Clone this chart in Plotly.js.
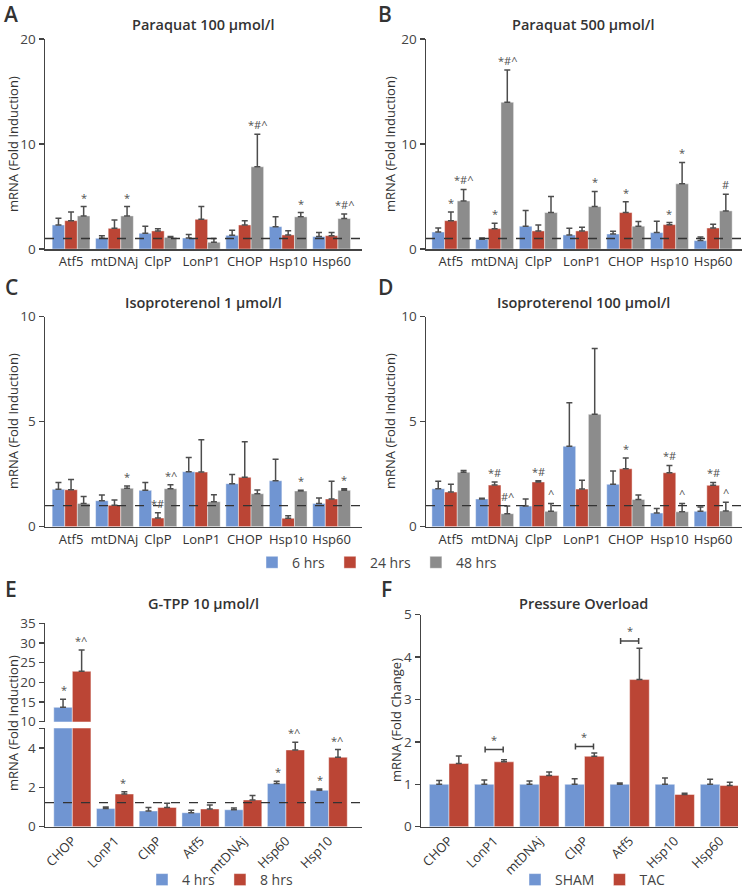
<!DOCTYPE html>
<html>
<head>
<meta charset="utf-8">
<script src="https://cdn.plot.ly/plotly-3.0.1.min.js"></script>
<style>html,body{margin:0;padding:0;background:#fff;}#chart{width:746px;height:896px;}</style>
</head>
<body>
<div id="chart"></div>
<script>
// ---------- DATA ----------
const genesAD = ['Atf5','mtDNAj','ClpP','LonP1','CHOP','Hsp10','Hsp60'];
const seriesAD = ['6 hrs','24 hrs','48 hrs'];

// Panel A: Paraquat 100 umol/l
const a6 = [2.29,1.02,1.50,1.05,1.30,2.13,1.18];
const a6err = [0.64,0.25,0.67,0.32,0.48,0.93,0.38];
const a24 = [2.70,1.97,1.72,2.83,2.29,1.34,1.27];
const a24err = [0.83,0.80,0.22,1.21,0.41,0.41,0.29];
const a48 = [3.15,3.15,1.11,0.64,7.83,3.06,2.90];
const a48err = [0.89,0.89,0.09,0.35,3.09,0.41,0.44];
const sigA = [[0,2,'*'],[1,2,'*'],[4,2,'*#^'],[5,2,'*'],[6,2,'*#^']];

// Panel B: Paraquat 500 umol/l
const b6 = [1.62,0.92,2.17,1.34,1.43,1.56,0.80];
const b6err = [0.38,0.13,1.49,0.63,0.26,1.08,0.35];
const b24 = [2.70,1.94,1.72,1.72,3.47,2.32,2.00];
const b24err = [0.83,0.51,0.57,0.35,1.02,0.20,0.36];
const b48 = [4.58,13.98,3.47,4.04,2.17,6.21,3.63];
const b48err = [1.09,3.06,1.53,1.44,0.44,2.04,1.59];
const sigB = [[0,1,'*'],[0,2,'*#^'],[1,1,'*'],[1,2,'*#^'],[3,2,'*'],[4,1,'*'],[5,1,'*'],[5,2,'*'],[6,2,'#']];

// Panel C: Isoproterenol 1 umol/l
const c6 = [1.78,1.24,1.73,2.62,2.05,2.19,1.11];
const c6err = [0.33,0.27,0.38,0.67,0.43,1.02,0.26];
const c24 = [1.76,1.02,0.41,2.60,2.35,0.40,1.32];
const c24err = [0.49,0.25,0.26,1.54,1.70,0.12,0.84];
const c48 = [1.11,1.83,1.81,1.19,1.57,1.70,1.73];
const c48err = [0.33,0.11,0.19,0.33,0.18,0.03,0.08];
const sigC = [[1,2,'*'],[2,1,'*#'],[2,2,'*^'],[5,2,'*'],[6,2,'*']];

// Panel D: Isoproterenol 100 umol/l
const d6 = [1.81,1.32,0.98,3.83,2.02,0.65,0.73];
const d6err = [0.35,0.03,0.34,2.07,0.63,0.22,0.21];
const d24 = [1.65,1.98,2.13,1.79,2.76,2.57,1.97];
const d24err = [0.37,0.15,0.06,0.42,0.51,0.35,0.14];
const d48 = [2.59,0.62,0.73,5.35,1.30,0.71,0.75];
const d48err = [0.09,0.36,0.38,3.14,0.21,0.40,0.42];
const sigD = [[1,1,'*#'],[1,2,'#^'],[2,1,'*#'],[2,2,'^'],[4,1,'*'],[5,1,'*#'],[5,2,'^'],[6,1,'*#'],[6,2,'^']];

// Panel E: G-TPP 10 umol/l
const genesE = ['CHOP','LonP1','ClpP','Atf5','mtDNAj','Hsp60','Hsp10'];
const seriesE = ['4 hrs','8 hrs'];
const e4 = [13.64,0.92,0.80,0.71,0.86,2.20,1.85];
const e4err = [2.04,0.08,0.18,0.12,0.09,0.11,0.07];
const e8 = [22.8,1.66,0.98,0.90,1.36,3.90,3.53];
const e8err = [5.4,0.12,0.21,0.20,0.23,0.39,0.39];
const sigE = [[0,0,'*'],[0,1,'*^'],[1,1,'*'],[5,0,'*'],[5,1,'*^'],[6,0,'*'],[6,1,'*^']];
const baselineE = 1.22;

// Panel F: Pressure Overload
const genesF = ['CHOP','LonP1','mtDNAj','ClpP','Atf5','Hsp10','Hsp60'];
const seriesF = ['SHAM','TAC'];
const fSham = [1,1,1,1,1,1,1];
const fShamErr = [0.09,0.10,0.08,0.13,0.03,0.15,0.12];
const fTac = [1.49,1.53,1.21,1.66,3.47,0.76,0.97];
const fTacErr = [0.18,0.05,0.08,0.08,0.74,0.03,0.08];
const fSigGene = [1,3,4];
const fSigY = [1.82,1.89,4.38];

const baselineAD = 1.0;

// ---------- STYLE ----------
const COL = ['#7095d2','#bb4535','#8c8c8c'];
const FONT = 'Open Sans, Lato, sans-serif';
const TXT = '#333';
const AX = '#444';
const W = 746, H = 896;
const px = v => v / W;
const py = v => 1 - v / H;

const traces = [];
const annotations = [];
const shapes = [];
const layout = {
  width: W, height: H,
  margin: {l:0, r:0, t:0, b:0},
  paper_bgcolor: '#fff', plot_bgcolor: 'rgba(0,0,0,0)',
  font: {family: FONT, color: TXT, size: 13},
  barmode: 'group',
  showlegend: true,
  annotations: annotations,
  shapes: shapes
};

function xAxisDef(domain, range, cats, angle) {
  return {
    domain: domain, range: range, type: 'category',
    categoryorder: 'array', categoryarray: cats,
    showline: true, linecolor: AX, linewidth: 1.5,
    ticks: '', showgrid: false, zeroline: false, fixedrange: true, automargin: false,
    tickfont: {size: 13, color: TXT, family: FONT},
    tickangle: angle || 0
  };
}
function yAxisDef(domain, range, tickvals, ticktext, anchor) {
  const o = {
    domain: domain, range: range, anchor: anchor,
    showline: true, linecolor: AX, linewidth: 1.5,
    ticks: 'outside', ticklen: 5, tickwidth: 1.2, tickcolor: AX,
    tickvals: tickvals, showgrid: false, zeroline: false, fixedrange: true, automargin: false,
    tickfont: {size: 13.5, color: '#444', family: FONT}
  };
  if (ticktext) o.ticktext = ticktext;
  return o;
}

function addBars(cats, vals, errs, names, xa, ya, legendId, showLeg) {
  vals.forEach((v, s) => {
    traces.push({
      type: 'bar', x: cats, y: v, name: names[s],
      xaxis: xa, yaxis: ya,
      marker: {color: COL[s], line: {color: 'rgba(255,255,255,0.45)', width: 1}},
      error_y: {type: 'data', symmetric: false, array: errs[s], arrayminus: v.map(() => 0),
                color: '#4d4d4d', thickness: 1.5, width: 3},
      legend: legendId, showlegend: showLeg, legendgroup: legendId + names[s],
      hoverinfo: 'skip'
    });
  });
}

function addSig(sig, vals, errs, n, w, xref, yref, filterFn) {
  sig.forEach(([g, s, t]) => {
    const top = vals[s][g] + errs[s][g];
    if (filterFn && !filterFn(top)) return;
    annotations.push({
      x: g + (s - (n - 1) / 2) * w, y: top, xref: xref, yref: yref,
      text: t, showarrow: false, yanchor: 'bottom', yshift: 0,
      font: {size: 11, color: '#505050', family: FONT}
    });
  });
}

function dashed(xa, ya, val) {
  shapes.push({type: 'line', xref: xa + ' domain', yref: ya, x0: 0, x1: 1, y0: val, y1: val,
    line: {color: '#333', width: 1.3, dash: 'dash'}, layer: 'above'});
}

function label(x, y, text, size, weight, angle) {
  annotations.push({x: px(x), y: py(y), xref: 'paper', yref: 'paper', text: text,
    showarrow: false, xanchor: 'center', yanchor: 'middle', textangle: angle || 0,
    font: {size: size, color: TXT, family: FONT, weight: weight || 400}});
}

// ---------- PANELS A-D ----------
const bgAD = 0.13;
const wAD = (1 - bgAD) / 3;
const panels = [
  {id: '', xa: 'x', ya: 'y', vals: [a6,a24,a48], errs: [a6err,a24err,a48err], sig: sigA,
   xd: [45, 362], yd: [39, 249], xr: [-0.6, 6.7], yr: [0, 20], tv: [0,10,20], leg: true},
  {id: '2', xa: 'x2', ya: 'y2', vals: [b6,b24,b48], errs: [b6err,b24err,b48err], sig: sigB,
   xd: [426, 742], yd: [39, 249], xr: [-0.57, 6.66], yr: [0, 20], tv: [0,10,20], leg: false},
  {id: '3', xa: 'x3', ya: 'y3', vals: [c6,c24,c48], errs: [c6err,c24err,c48err], sig: sigC,
   xd: [45, 362], yd: [316.7, 526.7], xr: [-0.6, 6.7], yr: [0, 10], tv: [0,5,10], leg: false},
  {id: '4', xa: 'x4', ya: 'y4', vals: [d6,d24,d48], errs: [d6err,d24err,d48err], sig: sigD,
   xd: [426, 742], yd: [316.7, 526.7], xr: [-0.57, 6.66], yr: [0, 10], tv: [0,5,10], leg: false}
];
panels.forEach(p => {
  layout['xaxis' + p.id] = Object.assign(xAxisDef([px(p.xd[0]), px(p.xd[1])], p.xr, genesAD), {anchor: p.ya});
  layout['yaxis' + p.id] = yAxisDef([py(p.yd[1]), py(p.yd[0])], p.yr, p.tv, null, p.xa);
  addBars(genesAD, p.vals, p.errs, seriesAD, p.xa, p.ya, 'legend', p.leg);
  addSig(p.sig, p.vals, p.errs, 3, wAD, p.xa, p.ya);
  dashed(p.xa, p.ya, baselineAD);
});
layout.bargap = bgAD;

// ---------- PANEL E (broken axis) ----------
const bgE = 0.23;
const wE = (1 - bgE) / 2;
layout.xaxis5 = Object.assign(xAxisDef([px(45), px(362)], [-0.64, 6.78], genesE, -45), {anchor: 'y5'});
layout.yaxis5 = yAxisDef([py(826.7), py(728.3)], [0, 5], [0,2,4,5], ['0','2','4',''], 'x5');
layout.yaxis6 = yAxisDef([py(721.7), py(623.3)], [10, 35], [10,15,20,25,30,35], null, 'x5');
addBars(genesE, [e4, e8], [e4err, e8err], seriesE, 'x5', 'y5', 'legend2', true);
addBars(genesE, [e4, e8], [e4err, e8err], seriesE, 'x5', 'y6', 'legend2', false);
addSig(sigE, [e4, e8], [e4err, e8err], 2, wE, 'x5', 'y5', t => t < 5);
addSig(sigE, [e4, e8], [e4err, e8err], 2, wE, 'x5', 'y6', t => t >= 10);
dashed('x5', 'y5', baselineE);

// ---------- PANEL F ----------
const bgF = 0.2;
const wF = (1 - bgF) / 2;
layout.xaxis7 = Object.assign(xAxisDef([px(421), px(738)], [-0.62, 6.4], genesF, -45), {anchor: 'y7'});
layout.yaxis7 = yAxisDef([py(826.7), py(614.7)], [0, 5], [0,1,2,3,4,5], null, 'x7');
addBars(genesF, [fSham, fTac], [fShamErr, fTacErr], seriesF, 'x7', 'y7', 'legend3', true);
fSigGene.forEach((g, k) => {
  const yb = fSigY[k];
  const x0 = g - wF / 2, x1 = g + wF / 2;
  const ln = {color: '#444', width: 1.5};
  shapes.push({type: 'line', xref: 'x7', yref: 'y7', x0: x0, x1: x1, y0: yb, y1: yb, line: ln});
  shapes.push({type: 'line', xref: 'x7', yref: 'y7', x0: x0, x1: x0, y0: yb - 0.07, y1: yb + 0.07, line: ln});
  shapes.push({type: 'line', xref: 'x7', yref: 'y7', x0: x1, x1: x1, y0: yb - 0.07, y1: yb + 0.07, line: ln});
  annotations.push({x: g, y: yb, xref: 'x7', yref: 'y7', text: '*', showarrow: false,
    yanchor: 'bottom', yshift: 1, font: {size: 11, color: '#505050', family: FONT}});
});

// ---------- LEGENDS ----------
const legBase = {orientation: 'h', xanchor: 'center', bgcolor: 'rgba(0,0,0,0)',
  font: {size: 14, color: '#444', family: FONT}, itemclick: false, itemdoubleclick: false,
  traceorder: 'normal', itemwidth: 30};
layout.legend = Object.assign({}, legBase, {x: px(377), y: py(562.7), yanchor: 'middle'});
layout.legend2 = Object.assign({}, legBase, {x: px(220), y: 0, yanchor: 'bottom'});
layout.legend3 = Object.assign({}, legBase, {x: px(593), y: 0, yanchor: 'bottom'});

// ---------- TITLES / LABELS ----------
label(203, 25, 'Paraquat 100 \u00b5mol/l', 14.5, 600);
label(583, 25, 'Paraquat 500 \u00b5mol/l', 14.5, 600);
label(203, 303, 'Isoproterenol 1 \u00b5mol/l', 14.5, 600);
label(583, 303, 'Isoproterenol 100 \u00b5mol/l', 14.5, 600);
label(203, 603, 'G-TPP 10 \u00b5mol/l', 14.5, 600);
label(583, 603, 'Pressure Overload', 14.5, 600);
label(11, 14, 'A', 21, 600);
label(385, 14, 'B', 21, 600);
label(11, 287, 'C', 21, 600);
label(385, 287, 'D', 21, 600);
label(11, 589, 'E', 21, 600);
label(386, 589, 'F', 21, 600);
label(13, 144, 'mRNA (Fold Induction)', 13, 400, -90);
label(390, 144, 'mRNA (Fold Induction)', 13, 400, -90);
label(13, 421, 'mRNA (Fold Induction)', 13, 400, -90);
label(390, 421, 'mRNA (Fold Induction)', 13, 400, -90);
label(13, 723, 'mRNA (Fold Induction)', 13, 400, -90);
label(396, 720, 'mRNA (Fold Change)', 13, 400, -90);

Plotly.newPlot('chart', traces, layout, {staticPlot: true, displayModeBar: false});
</script>
</body>
</html>
